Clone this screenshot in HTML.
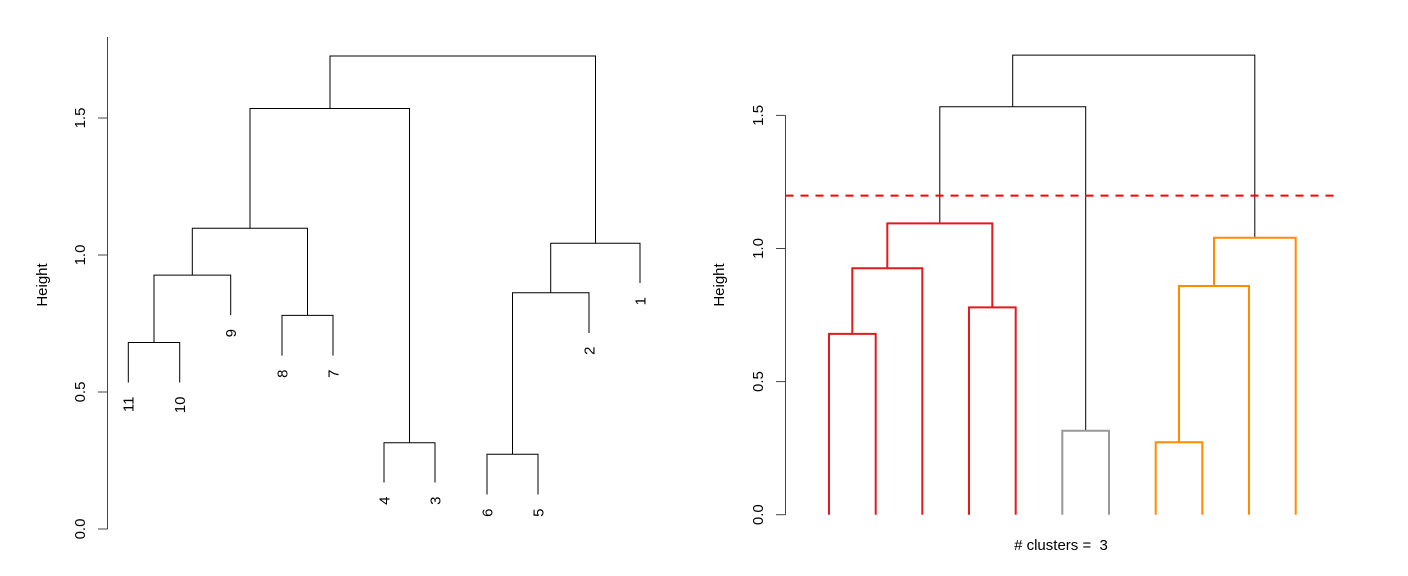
<!DOCTYPE html>
<html><head><meta charset="utf-8"><style>
html,body{margin:0;padding:0;background:#fff;}
svg{display:block;font-family:"Liberation Sans",Arial,sans-serif;}
</style></head><body>
<svg width="1408" height="576" viewBox="0 0 1408 576" xmlns="http://www.w3.org/2000/svg">
<g stroke="#444" stroke-width="1" fill="none">
<line x1="107.5" y1="37" x2="107.5" y2="529"/>
<line x1="98" y1="529" x2="107.5" y2="529"/>
<line x1="98" y1="392" x2="107.5" y2="392"/>
<line x1="98" y1="255" x2="107.5" y2="255"/>
<line x1="98" y1="118" x2="107.5" y2="118"/>
</g>
<g stroke="#000" stroke-width="1" fill="none">
<path d="M128.3,382.5V342.5H179.7V382.5"/>
<path d="M154,342.5V275.1H230.7V315.1"/>
<path d="M282,355.6V315.4H333V355.6"/>
<path d="M192.3,275.1V228.3H307.5V315.4"/>
<path d="M384,482.5V442.7H435V482.5"/>
<path d="M250,228.3V108.5H409.5V442.7"/>
<path d="M487,494.5V454.3H538V494.5"/>
<path d="M512.5,454.3V292.7H589V333"/>
<path d="M550.7,292.7V243.3H640V283"/>
<path d="M330,108.5V56H595.5V243.3"/>
</g>
<g font-size="15" fill="#000">
<text transform="translate(85,529) rotate(-90)" text-anchor="middle">0.0</text>
<text transform="translate(85,392) rotate(-90)" text-anchor="middle">0.5</text>
<text transform="translate(85,255) rotate(-90)" text-anchor="middle">1.0</text>
<text transform="translate(85,118) rotate(-90)" text-anchor="middle">1.5</text>
<text transform="translate(47,285) rotate(-90)" text-anchor="middle">Height</text>
<text transform="translate(133.5,396.5) rotate(-90)" text-anchor="end">11</text>
<text transform="translate(185,396.5) rotate(-90)" text-anchor="end">10</text>
<text transform="translate(236,329) rotate(-90)" text-anchor="end">9</text>
<text transform="translate(287.3,369.5) rotate(-90)" text-anchor="end">8</text>
<text transform="translate(338.3,369.5) rotate(-90)" text-anchor="end">7</text>
<text transform="translate(389.3,496.5) rotate(-90)" text-anchor="end">4</text>
<text transform="translate(440.3,496.5) rotate(-90)" text-anchor="end">3</text>
<text transform="translate(492.3,508.5) rotate(-90)" text-anchor="end">6</text>
<text transform="translate(543.3,508.5) rotate(-90)" text-anchor="end">5</text>
<text transform="translate(594.3,346.5) rotate(-90)" text-anchor="end">2</text>
<text transform="translate(645.3,297) rotate(-90)" text-anchor="end">1</text>
<text transform="translate(763,514.7) rotate(-90)" text-anchor="middle">0.0</text>
<text transform="translate(763,381.6) rotate(-90)" text-anchor="middle">0.5</text>
<text transform="translate(763,248.5) rotate(-90)" text-anchor="middle">1.0</text>
<text transform="translate(763,115.4) rotate(-90)" text-anchor="middle">1.5</text>
<text transform="translate(724,285) rotate(-90)" text-anchor="middle">Height</text>
<text x="1061" y="550" text-anchor="middle" xml:space="preserve"># clusters =  3</text>
</g>
<g stroke="#444" stroke-width="1" fill="none">
<line x1="785.5" y1="115.4" x2="785.5" y2="514.7"/>
<line x1="776" y1="514.7" x2="785.5" y2="514.7"/>
<line x1="776" y1="381.6" x2="785.5" y2="381.6"/>
<line x1="776" y1="248.5" x2="785.5" y2="248.5"/>
<line x1="776" y1="115.4" x2="785.5" y2="115.4"/>
</g>
<g stroke="#000" stroke-width="1" fill="none">
<path d="M939.8,223.4V106.7H1085.7V430.7"/>
<path d="M1012.7,106.7V55.1H1254.8V237.7"/>
</g>
<g stroke="#e31a1c" stroke-width="2" fill="none">
<path d="M829,514.7V333.9H875.7V514.7"/>
<path d="M852.3,333.9V268.2H922.3V514.7"/>
<path d="M969,514.7V307.4H1015.7V514.7"/>
<path d="M887.3,268.2V223.4H992.3V307.4"/>
</g>
<g stroke="#999" stroke-width="2" fill="none">
<path d="M1062.3,514.7V430.7H1109V514.7"/>
</g>
<g stroke="#ff8c00" stroke-width="2" fill="none">
<path d="M1155.7,514.7V442.3H1202.3V514.7"/>
<path d="M1179,442.3V286H1249V514.7"/>
<path d="M1214,286V237.7H1295.7V514.7"/>
</g>
<line x1="785.5" y1="195.6" x2="1340" y2="195.6" stroke="#ff0000" stroke-width="2" stroke-dasharray="8,7"/>
</svg>
</body></html>
